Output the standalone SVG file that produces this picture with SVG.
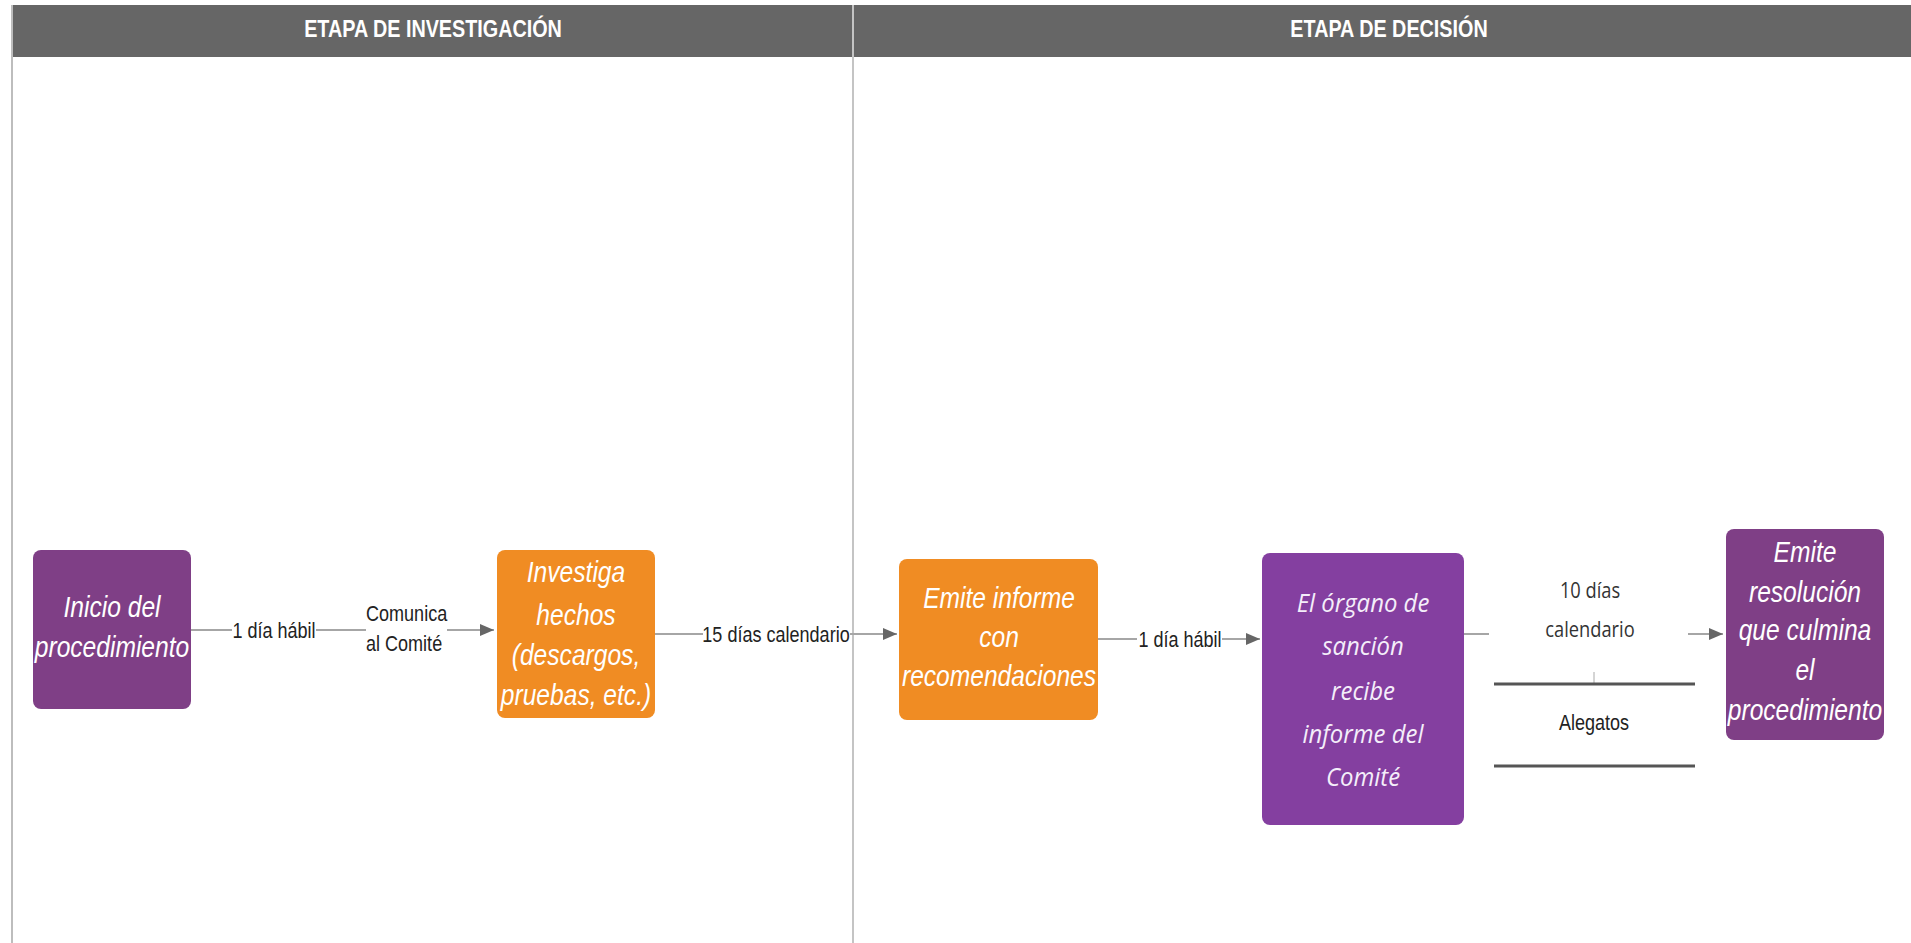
<svg xmlns="http://www.w3.org/2000/svg" width="1911" height="943" viewBox="0 0 1911 943">
<style>
.hdr{fill:#666666}
.hdrt{font-family:"Liberation Sans",Arial,sans-serif;font-weight:bold;font-size:23px;fill:#ffffff;text-anchor:middle}
.nt{font-family:"Liberation Sans",Arial,sans-serif;font-style:italic;font-size:30px;fill:#ffffff;text-anchor:middle}
.nt2{font-family:"Open Sans",sans-serif;font-style:italic;font-size:26px;fill:#f4eefa;text-anchor:middle}
.lbl{font-family:"Liberation Sans",Arial,sans-serif;font-size:22px;fill:#222222;text-anchor:middle}
.lbl2{font-family:"Open Sans",sans-serif;font-size:21px;fill:#333333;text-anchor:middle}
.conn{stroke:#a6a6a6;stroke-width:2;fill:none}
.bar{stroke:#555555;stroke-width:3;fill:none}
.purple{fill:#7f3f86}
.violet{fill:#843fa0}
.orange{fill:#f08c23}
.bg{fill:#ffffff}
</style>
<defs>
<marker id="arr" markerUnits="userSpaceOnUse" markerWidth="16" markerHeight="14" refX="15" refY="7" orient="auto">
<path d="M1,1 L15,7 L1,13 z" fill="#666666"/>
</marker>
</defs>
<rect x="0" y="0" width="1911" height="943" fill="#ffffff"/>
<g id="lanes">
<rect class="hdr" x="12" y="5" width="1899" height="52"/>
<line x1="12" y1="5" x2="12" y2="943" stroke="#bdbdbd" stroke-width="2"/>
<line x1="853" y1="5" x2="853" y2="943" stroke="#c4c4c4" stroke-width="2"/>
<g transform="translate(433 0) scale(0.86 1)"><text class="hdrt" x="0" y="37">ETAPA DE INVESTIGACIÓN</text></g>
<g transform="translate(1389 0) scale(0.86 1)"><text class="hdrt" x="0" y="37">ETAPA DE DECISIÓN</text></g>
</g>
<g id="connectors">
<line class="conn" x1="191" y1="630" x2="494" y2="630" marker-end="url(#arr)"/>
<rect class="bg" x="232" y="615" width="84" height="30"/>
<rect class="bg" x="366" y="596" width="81" height="62"/>
<g transform="translate(274 0) scale(0.82 1)"><text class="lbl" x="0" y="638">1 día hábil</text></g>
<g transform="translate(366 0) scale(0.82 1)"><text class="lbl" x="0" y="621" text-anchor="start" style="text-anchor:start">Comunica</text><text class="lbl" x="0" y="651" style="text-anchor:start">al Comité</text></g>
<line class="conn" x1="655" y1="634" x2="897" y2="634" marker-end="url(#arr)"/>
<rect class="bg" x="703" y="619" width="147" height="30"/>
<g transform="translate(776 0) scale(0.82 1)"><text class="lbl" x="0" y="642">15 días calendario</text></g>
<line class="conn" x1="1098" y1="639" x2="1260" y2="639" marker-end="url(#arr)"/>
<rect class="bg" x="1137" y="624" width="85" height="30"/>
<g transform="translate(1180 0) scale(0.82 1)"><text class="lbl" x="0" y="647">1 día hábil</text></g>
<line class="conn" x1="1463" y1="634" x2="1489" y2="634"/>
<line class="conn" x1="1688" y1="634" x2="1723" y2="634" marker-end="url(#arr)"/>
<g transform="translate(1590 0) scale(0.87 1)"><text class="lbl2" x="0" y="598">10 días</text><text class="lbl2" x="0" y="637">calendario</text></g>
<line x1="1594" y1="672" x2="1594" y2="683" stroke="#aaaaaa" stroke-width="1"/>
<line class="bar" x1="1494" y1="684" x2="1695" y2="684"/>
<line class="bar" x1="1494" y1="766" x2="1695" y2="766"/>
<g transform="translate(1594 0) scale(0.82 1)"><text class="lbl" x="0" y="730">Alegatos</text></g>
</g>
<g id="n1">
<rect class="purple" x="33" y="550" width="158" height="159" rx="8"/>
<g transform="translate(112 0) scale(0.82 1)"><text class="nt" x="0" y="617">Inicio del</text><text class="nt" x="0" y="657">procedimiento</text></g>
</g>
<g id="n2">
<rect class="orange" x="497" y="550" width="158" height="168" rx="8"/>
<g transform="translate(576 0) scale(0.82 1)"><text class="nt" x="0" y="582">Investiga</text><text class="nt" x="0" y="625">hechos</text><text class="nt" x="0" y="665">(descargos,</text><text class="nt" x="0" y="705">pruebas, etc.)</text></g>
</g>
<g id="n3">
<rect class="orange" x="899" y="559" width="199" height="161" rx="8"/>
<g transform="translate(999 0) scale(0.82 1)"><text class="nt" x="0" y="608">Emite informe</text><text class="nt" x="0" y="647">con</text><text class="nt" x="0" y="686">recomendaciones</text></g>
</g>
<g id="n4">
<rect class="violet" x="1262" y="553" width="202" height="272" rx="8"/>
<g transform="translate(1363 0) scale(0.92 1)"><text class="nt2" x="0" y="612">El órgano de</text><text class="nt2" x="0" y="655">sanción</text><text class="nt2" x="0" y="700">recibe</text><text class="nt2" x="0" y="743">informe del</text><text class="nt2" x="0" y="786">Comité</text></g>
</g>
<g id="n5">
<rect class="purple" x="1726" y="529" width="158" height="211" rx="8"/>
<g transform="translate(1805 0) scale(0.82 1)"><text class="nt" x="0" y="562">Emite</text><text class="nt" x="0" y="602">resolución</text><text class="nt" x="0" y="640">que culmina</text><text class="nt" x="0" y="680">el</text><text class="nt" x="0" y="720">procedimiento</text></g>
</g>
</svg>
